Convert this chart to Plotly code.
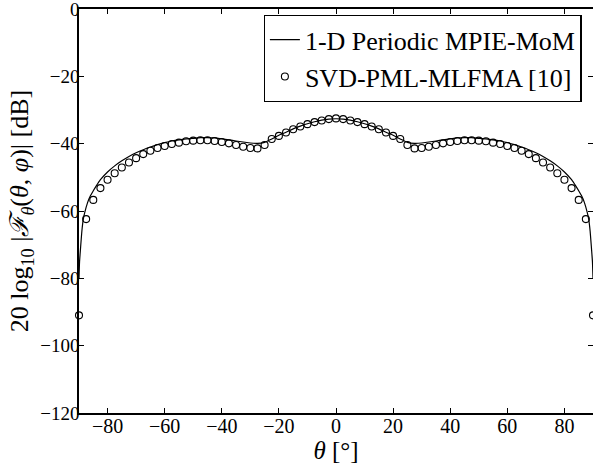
import plotly.graph_objects as go

# Solid curve: 1-D Periodic MPIE-MoM
theta_line = [-90, -89.8, -89.5, -89, -88.5, -88, -87, -86, -85, -84, -82.5, -80,
              -77.5, -75, -72.5, -70, -67.5, -65, -62.5, -60, -57.5, -55, -52.5,
              -50, -47.5, -45, -42.5, -40, -37.5, -35, -32.5, -30, -27.5, -25,
              -22.5, -20, -17.5, -15, -12.5, -10, -7.5, -5, -2.5, 0,
              2.5, 5, 7.5, 10, 12.5, 15, 17.5, 20, 22.5, 25, 27.5, 30, 32.5, 35,
              37.5, 40, 42.5, 45, 47.5, 50, 52.5, 55, 57.5, 60, 62.5, 65, 67.5,
              70, 72.5, 75, 77.5, 80, 82.5, 84, 85, 86, 87, 88, 88.5, 89, 89.5,
              89.8, 90]
db_line = [-80, -75, -71.5, -66, -62.5, -60.5, -57.5, -55.5, -54, -52.6, -50.7, -48.4,
           -46.6, -45.1, -43.8, -42.7, -41.8, -41.0, -40.3, -39.7, -39.2, -38.9, -38.6,
           -38.4, -38.2, -38.2, -38.3, -38.6, -38.9, -39.2, -39.5, -39.8, -39.9, -39.6,
           -38.6, -37.5, -36.6, -35.6, -34.8, -34.1, -33.5, -33.0, -32.7, -32.6,
           -32.7, -33.0, -33.5, -34.1, -34.8, -35.6, -36.6, -37.5, -38.6, -39.6,
           -39.9, -39.8, -39.5, -39.2, -38.9, -38.6, -38.3, -38.2, -38.2, -38.4,
           -38.6, -38.9, -39.2, -39.7, -40.3, -41.0, -41.8, -42.7, -43.8, -45.1,
           -46.6, -48.4, -50.7, -52.6, -54, -55.5, -57.5, -60.5, -62.5, -66, -71.5,
           -75, -80]

# Markers: SVD-PML-MLFMA [10]
theta_pts = [-90, -87.5, -85, -82.5, -80, -77.5, -75, -72.5, -70, -67.5, -65, -62.5,
             -60, -57.5, -55, -52.5, -50, -47.5, -45, -42.5, -40, -37.5, -35, -32.5,
             -30, -27.5, -25, -22.5, -20, -17.5, -15, -12.5, -10, -7.5, -5, -2.5, 0,
             2.5, 5, 7.5, 10, 12.5, 15, 17.5, 20, 22.5, 25, 27.5, 30, 32.5, 35, 37.5,
             40, 42.5, 45, 47.5, 50, 52.5, 55, 57.5, 60, 62.5, 65, 67.5, 70, 72.5, 75,
             77.5, 80, 82.5, 85, 87.5, 90]
db_pts = [-91.0, -62.4, -56.7, -53.2, -50.7, -48.8, -47.1, -45.6, -44.3, -43.1, -42.1,
          -41.3, -40.7, -40.1, -39.7, -39.3, -39.1, -39.0, -39.0, -39.2, -39.5, -39.9,
          -40.4, -40.9, -41.3, -41.4, -40.4, -38.6, -37.7, -36.7, -35.7, -34.9, -34.2,
          -33.6, -33.1, -32.7, -32.5,
          -32.7, -33.1, -33.6, -34.2, -34.9, -35.7, -36.7, -37.7, -38.6, -40.4, -41.4,
          -41.3, -40.9, -40.4, -39.9, -39.5, -39.2, -39.0, -39.0, -39.1, -39.3, -39.7,
          -40.1, -40.7, -41.3, -42.1, -43.1, -44.3, -45.6, -47.1, -48.8, -50.7, -53.2,
          -56.7, -62.4, -91.0]

x_ticks = [-80, -60, -40, -20, 0, 20, 40, 60, 80]
y_ticks = [-120, -100, -80, -60, -40, -20, 0]

FONT = "Liberation Serif"

fig = go.Figure()
fig.add_trace(go.Scatter(
    x=theta_line, y=db_line, mode="lines", name="1-D Periodic MPIE-MoM",
    line=dict(color="black", width=1.2, shape="spline", smoothing=0.6),
    cliponaxis=True))
fig.add_trace(go.Scatter(
    x=theta_pts, y=db_pts, mode="markers", name="SVD-PML-MLFMA [10]",
    marker=dict(symbol="circle-open", size=7, color="black", line=dict(width=1.1)),
    cliponaxis=False))

axis_common = dict(
    showline=True, linecolor="black", linewidth=1.6, mirror="ticks",
    ticks="inside", ticklen=5, tickwidth=1, tickcolor="black",
    showgrid=False, zeroline=False, automargin=False,
    ticklabeloverflow="allow",
)

fig.update_layout(
    width=593, height=465,
    paper_bgcolor="white", plot_bgcolor="white",
    margin=dict(l=79, r=0, t=9, b=52, autoexpand=False),
    font=dict(family=FONT, color="black"),
    showlegend=True,
    legend=dict(
        x=0.978, y=0.985, xanchor="right", yanchor="top",
        bgcolor="white", bordercolor="black", borderwidth=1.2,
        font=dict(family=FONT, size=26, color="black"),
        traceorder="normal", itemwidth=30,
    ),
    xaxis=dict(
        range=[-90, 90], tickvals=x_ticks, ticklabelstandoff=-6,
        tickfont=dict(family=FONT, size=20, color="black"),
        title=dict(text="<i>θ</i> [°]", font=dict(family=FONT, size=25), standoff=0),
        **axis_common,
    ),
    yaxis=dict(
        range=[-120, 0], tickvals=y_ticks, ticklabelstandoff=-6,
        tickfont=dict(family=FONT, size=19, color="black"),
        title=dict(text="20 log<sub>10</sub> |<i>ℱ</i><sub><i>θ</i></sub>(<i>θ</i>, <i>φ</i>)| [dB]",
                   font=dict(family=FONT, size=26), standoff=4),
        **axis_common,
    ),
)

fig.write_html("out.html", config={"displayModeBar": False},
               post_script="document.body.style.margin='0';document.body.style.overflow='hidden';")
